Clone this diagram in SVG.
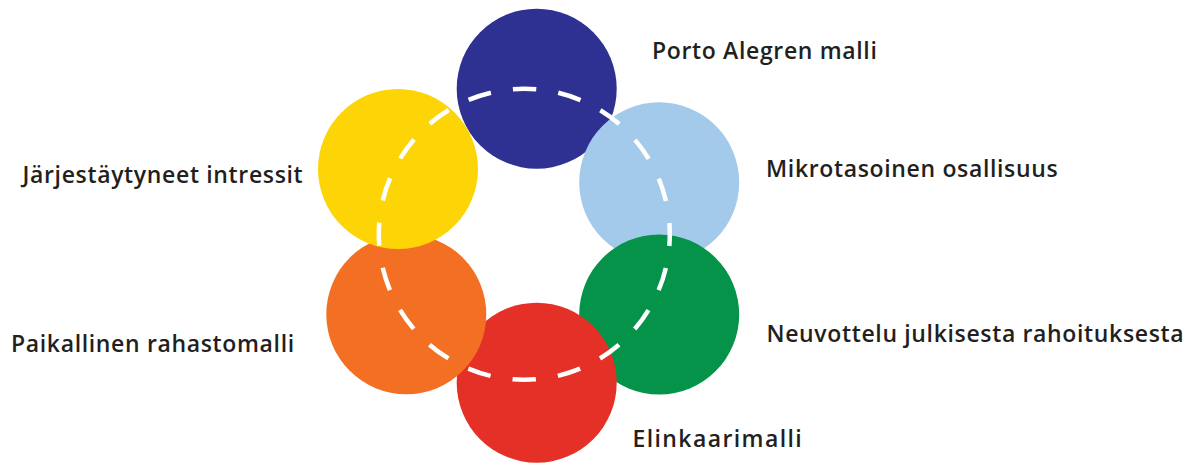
<svg xmlns="http://www.w3.org/2000/svg" width="1192" height="464" viewBox="0 0 1192 464">
<style>
.lbl{font-family:"Open Sans","Liberation Sans",sans-serif;font-weight:600;font-size:23px;letter-spacing:0.65px;fill:#231f20}
.wide{letter-spacing:1.4px}
</style>
<rect width="1192" height="464" fill="#ffffff"/>
<g id="node-porto"><circle cx="536.7" cy="88.7" r="80" fill="#2e3192"/></g>
<g id="node-mikro"><circle cx="659.2" cy="182.3" r="80" fill="#a3c9eb"/></g>
<g id="node-neuvottelu"><circle cx="659.2" cy="314.5" r="80" fill="#05934a"/></g>
<g id="node-elinkaari"><circle cx="536.7" cy="382.7" r="80" fill="#e43027"/></g>
<g id="node-paikallinen"><circle cx="406.3" cy="314.3" r="80" fill="#f26f23"/></g>
<g id="node-jarjestaytyneet"><circle cx="398" cy="169" r="80" fill="#fdd405"/></g>
<g id="connectors"><circle cx="524.3" cy="234.3" r="145.5" fill="none" stroke="#ffffff" stroke-width="4.5" stroke-dasharray="23.4 22.31" stroke-dashoffset="11.7"/></g>
<g id="labels">
<text class="lbl" x="652" y="59">Porto Alegren malli</text>
<text class="lbl" x="766" y="177">Mikrotasoinen osallisuus</text>
<text class="lbl" x="766.5" y="342">Neuvottelu julkisesta rahoituksesta</text>
<text class="lbl wide" x="632.5" y="447">Elinkaarimalli</text>
<text class="lbl" x="22.5" y="182.5">Järjestäytyneet intressit</text>
<text class="lbl" x="11" y="352">Paikallinen rahastomalli</text>
</g>
</svg>
